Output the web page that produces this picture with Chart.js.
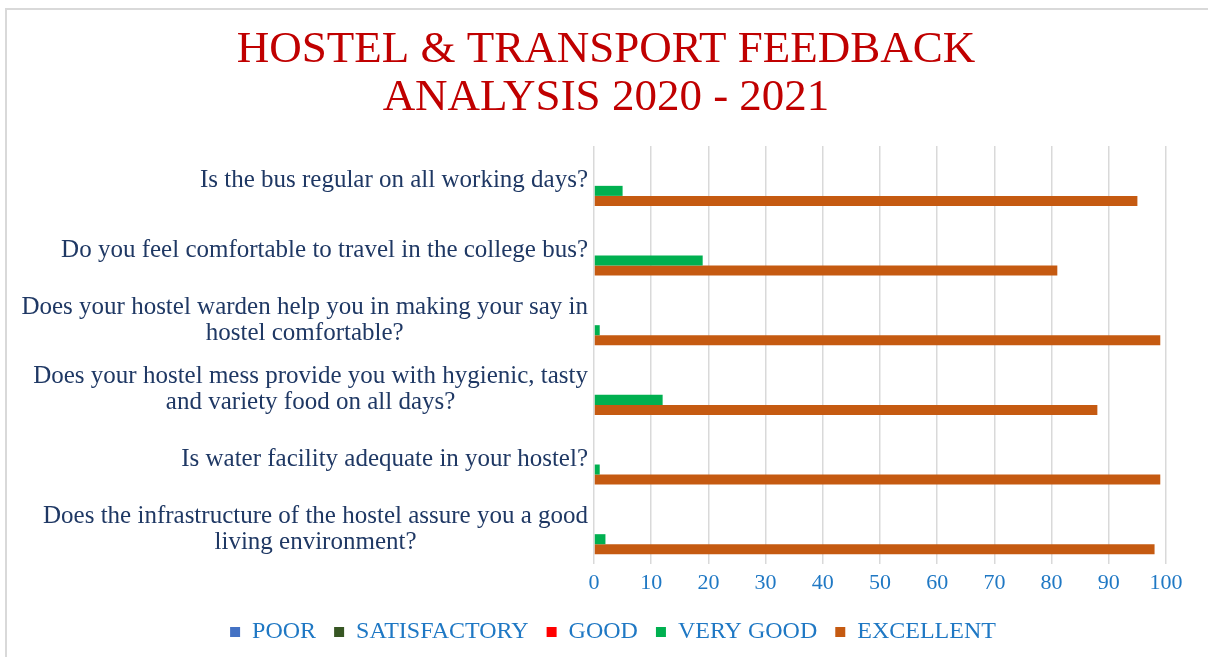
<!DOCTYPE html>
<html>
<head>
<meta charset="utf-8">
<script src="https://cdn.jsdelivr.net/npm/chart.js@4.4.0/dist/chart.umd.min.js"></script>
<style>
    html, body { margin: 0; padding: 0; background: #fff; overflow: hidden; }
    #wrap { position: relative; width: 1208px; height: 657px; }
    #frame {
        position: absolute;
        left: 5px;
        top: 8px;
        width: 1300px;
        height: 700px;
        border-left: 2px solid #d9d9d9;
        border-top: 2px solid #d9d9d9;
    }
    #feedbackChart { position: absolute; left: 0; top: 0; }
</style>
</head>
<body>
<div id="wrap">
    <div id="frame"></div>
    <canvas id="feedbackChart"></canvas>
</div>
<script>
// Sorular (kategoriler)
const categories = [
    'Is the bus regular on all working days?',
    'Do you feel comfortable to travel in the college bus?',
    ['Does your hostel warden help you in making your say in', 'hostel comfortable?'],
    ['Does your hostel mess provide you with hygienic, tasty', 'and variety food on all days?'],
    'Is water facility adequate in your hostel?',
    ['Does the infrastructure of the hostel assure you a good', 'living environment?']
];

// Seri değerleri
const poor = [0, 0, 0, 0, 0, 0];
const satisfactory = [0, 0, 0, 0, 0, 0];
const good = [0, 0, 0, 0, 0, 0];
const veryGood = [5, 19, 1, 12, 1, 2];
const excellent = [95, 81, 99, 88, 99, 98];

const seriesNames = ['POOR', 'SATISFACTORY', 'GOOD', 'VERY GOOD', 'EXCELLENT'];
const xTicks = [0, 10, 20, 30, 40, 50, 60, 70, 80, 90, 100];
const titleLines = ['HOSTEL & TRANSPORT FEEDBACK', 'ANALYSIS 2020 - 2021'];

const serif = '"Liberation Serif", "DejaVu Serif", serif';
const blue = '#1F78C4';

// Başlık ve y ekseni etiketleri
const textPlugin = {
    id: 'texts',
    afterDraw(chart) {
        const ctx = chart.ctx;
        const yScale = chart.scales.y;
        ctx.save();

        // başlık
        ctx.font = '45px ' + serif;
        ctx.fillStyle = '#C00000';
        ctx.textAlign = 'center';
        ctx.textBaseline = 'alphabetic';
        ctx.fillText(titleLines[0], 606, 62);
        ctx.fillText(titleLines[1], 606, 110);

        // soru etiketleri: blok sağa yaslı, satırlar ortalı
        ctx.font = '25px ' + serif;
        ctx.fillStyle = '#1F3864';
        ctx.textBaseline = 'middle';
        categories.forEach((label, i) => {
            const lines = Array.isArray(label) ? label : [label];
            const w = Math.max(...lines.map(l => ctx.measureText(l).width));
            const cx = 588 - w / 2;
            const cy = yScale.getPixelForValue(i);
            lines.forEach((line, j) => {
                ctx.fillText(line, cx, cy + (j - (lines.length - 1) / 2) * 26);
            });
        });
        ctx.restore();
    }
};

const canvas = document.getElementById('feedbackChart');
canvas.width = 1208;
canvas.height = 657;
canvas.style.width = '1208px';
canvas.style.height = '657px';

new Chart(canvas.getContext('2d'), {
    type: 'bar',
    data: {
        labels: categories,
        datasets: [
            { label: seriesNames[0], data: poor, backgroundColor: '#4472C4' },
            { label: seriesNames[1], data: satisfactory, backgroundColor: '#375623' },
            { label: seriesNames[2], data: good, backgroundColor: '#FF0000' },
            { label: seriesNames[3], data: veryGood, backgroundColor: '#00B050' },
            { label: seriesNames[4], data: excellent, backgroundColor: '#C55A11' }
        ]
    },
    options: {
        indexAxis: 'y',
        responsive: false,
        animation: false,
        devicePixelRatio: 1,
        datasets: {
            bar: {
                categoryPercentage: 0.72,
                barPercentage: 1.0,
                borderWidth: 0
            }
        },
        layout: {
            padding: { left: 60, right: 42, top: 146, bottom: 3 }
        },
        scales: {
            x: {
                min: 0,
                max: 100,
                afterBuildTicks: (scale) => {
                    scale.ticks = xTicks.map(v => ({ value: v }));
                },
                grid: {
                    color: '#d9d9d9',
                    lineWidth: 1.5,
                    drawTicks: false
                },
                border: { display: false },
                ticks: {
                    color: blue,
                    padding: 8,
                    font: { family: serif, size: 22, lineHeight: 1.0 }
                }
            },
            y: {
                grid: { display: false },
                border: { display: false },
                ticks: { display: false },
                afterFit: (scale) => {
                    scale.width = 534;
                }
            }
        },
        plugins: {
            title: { display: false },
            legend: {
                position: 'bottom',
                labels: {
                    boxWidth: 10,
                    boxHeight: 10,
                    padding: 18,
                    color: blue,
                    font: { family: serif, size: 24 }
                }
            },
            tooltip: { enabled: false }
        }
    },
    plugins: [textPlugin]
});
</script>
</body>
</html>
